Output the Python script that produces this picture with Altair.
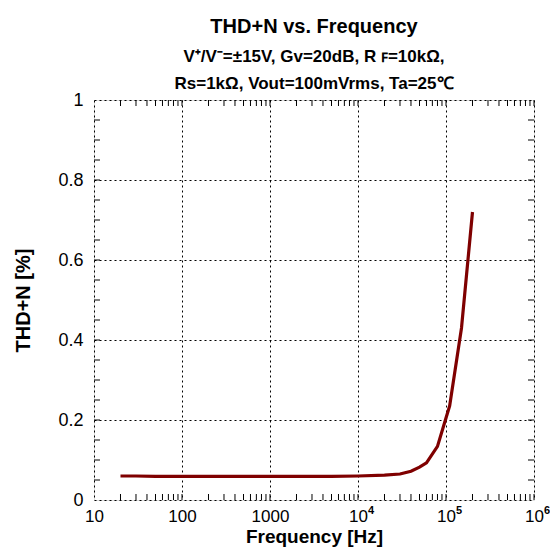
import altair as alt
import pandas as pd

# ---- data ----
freq_hz = [20, 30, 50, 100, 200, 500, 1000, 2000, 5000, 10000, 20000, 30000,
           40000, 50000, 60000, 80000, 100000, 110000, 150000, 200000]
thdn_pct = [0.060, 0.060, 0.059, 0.059, 0.059, 0.059, 0.059, 0.059, 0.059, 0.060,
            0.062, 0.065, 0.072, 0.082, 0.093, 0.134, 0.205, 0.235, 0.43, 0.72]

x_major = [10, 100, 1000, 10000, 100000, 1000000]
x_labels = ["10", "100", "1000", "10", "10", "10"]
x_exp_pos = [10000, 100000, 1000000]
x_exp_txt = ["4", "5", "6"]
y_major = [0, 0.2, 0.4, 0.6, 0.8, 1.0]
y_minor = [0.05, 0.1, 0.15, 0.2, 0.25, 0.3, 0.35, 0.4, 0.45, 0.5, 0.55, 0.6,
           0.65, 0.7, 0.75, 0.8, 0.85, 0.9, 0.95]
x_minor = [m * d for d in [10, 100, 1000, 10000, 100000] for m in range(2, 11)]

title_text = "THD+N vs. Frequency"
subtitle_lines = ["V⁺/V⁻=±15V, Gv=20dB, R ꜰ=10kΩ,", "Rs=1kΩ, Vout=100mVrms, Ta=25℃"]

W, H = 440, 400
FONT = "Liberation Sans"

df = pd.DataFrame({"f": freq_hz, "thd": thdn_pct})
dfy = pd.DataFrame({"v": y_minor})
dfx = pd.DataFrame({"f": x_minor})
dfe = pd.DataFrame({"f": x_exp_pos, "e": x_exp_txt})

label_expr = " : ".join(
    f"datum.value == {v} ? '{l}'" for v, l in zip(x_major, x_labels)
) + " : ''"

xscale = alt.Scale(type="log", domain=[10, 1000000], nice=False)
yscale = alt.Scale(domain=[0, 1], nice=False, zero=False)

line = alt.Chart(df).mark_line(color="#7f0000", strokeWidth=3.2).encode(
    x=alt.X("f:Q", scale=xscale,
            axis=alt.Axis(values=x_major, labelExpr=label_expr, title="Frequency [Hz]",
                          grid=True, gridDash=[2, 3], gridColor="black", gridOpacity=1,
                          gridWidth=1, ticks=False, domain=False, labelPadding=8,
                          labelFontSize=17, titleFontSize=19, titlePadding=3,
                          labelFlush=False, labelOverlap=False)),
    y=alt.Y("thd:Q", scale=yscale,
            axis=alt.Axis(values=y_major, format="~g", title="THD+N [%]",
                          grid=True, gridDash=[2, 3], gridColor="black", gridOpacity=1,
                          gridWidth=1, ticks=False, domain=False, labelPadding=11,
                          labelFontSize=18, titleFontSize=20, titlePadding=24,
                          labelFlush=False, labelOverlap=False)),
)

exps = alt.Chart(dfe).mark_text(align="left", baseline="alphabetic", dx=10,
                                fontSize=11, fontWeight="bold", font=FONT,
                                color="black").encode(
    x=alt.X("f:Q", scale=xscale), y=alt.value(H + 14), text="e:N")

tick_len = 6
yt_left = alt.Chart(dfy).mark_rule(color="black", strokeWidth=1).encode(
    y=alt.Y("v:Q", scale=yscale), x=alt.value(0), x2=alt.value(tick_len))
yt_right = alt.Chart(dfy).mark_rule(color="black", strokeWidth=1).encode(
    y=alt.Y("v:Q", scale=yscale), x=alt.value(W - tick_len), x2=alt.value(W))
xt_bottom = alt.Chart(dfx).mark_rule(color="black", strokeWidth=1).encode(
    x=alt.X("f:Q", scale=xscale), y=alt.value(H - tick_len), y2=alt.value(H))
xt_top = alt.Chart(dfx).mark_rule(color="black", strokeWidth=1).encode(
    x=alt.X("f:Q", scale=xscale), y=alt.value(0), y2=alt.value(tick_len))

chart = alt.layer(line, yt_left, yt_right, xt_bottom, xt_top, exps).properties(
    width=W, height=H,
    title=alt.TitleParams(text=title_text, subtitle=subtitle_lines, anchor="middle",
                          fontSize=20, subtitleFontSize=17, subtitleFontWeight="bold",
                          subtitleColor="black", color="black", font=FONT,
                          subtitleFont=FONT, subtitlePadding=12, subtitleLineHeight=27,
                          offset=-1),
    autosize=alt.AutoSizeParams(type="none"),
    padding={"left": 86, "top": 92, "right": 16, "bottom": 48},
).configure_view(stroke="black", strokeWidth=2).configure_axis(
    labelFont=FONT, titleFont=FONT, labelFontWeight="bold", titleFontWeight="bold",
    labelColor="black", titleColor="black"
).configure(background="white")

chart.save("out.html", embed_options={"renderer": "svg", "actions": False})
